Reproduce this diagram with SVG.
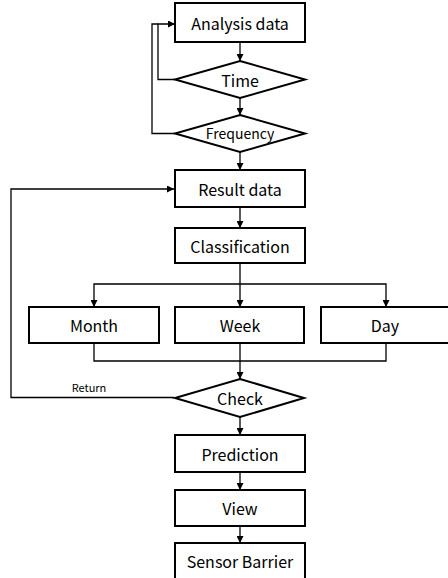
<svg xmlns="http://www.w3.org/2000/svg" width="448" height="578" viewBox="0 0 448 578">
<style>
.box{fill:#fff;stroke:#000;stroke-width:2}
.lbl{font-family:"Noto Sans CJK KR","Noto Sans",sans-serif;font-size:16px;fill:#000;text-anchor:middle;dominant-baseline:central}
.con{fill:none;stroke:#000;stroke-width:1.3}
</style>
<defs>
<marker id="ah" viewBox="0 0 10 10" refX="10" refY="5" markerWidth="7" markerHeight="7" markerUnits="userSpaceOnUse" orient="auto">
<path d="M0,0 L10,5 L0,10 z" fill="#000"/>
</marker>
</defs>
<rect width="448" height="578" fill="#fff"/>
<g id="connectors">
<path class="con" d="M240,43 V61" marker-end="url(#ah)"/>
<path class="con" d="M240,98 V115" marker-end="url(#ah)"/>
<path class="con" d="M240,152 V170" marker-end="url(#ah)"/>
<path class="con" d="M175,79.5 H158 V24 H175" marker-end="url(#ah)"/>
<path class="con" d="M175,133.5 H152 V24 H158"/>
<path class="con" d="M240,207 V228" marker-end="url(#ah)"/>
<path class="con" d="M240,263 V307" marker-end="url(#ah)"/>
<path class="con" d="M240,284 H94 V307" marker-end="url(#ah)"/>
<path class="con" d="M240,284 H386 V307" marker-end="url(#ah)"/>
<path class="con" d="M94,343 V361 H386 V343"/>
<path class="con" d="M240,343 V379" marker-end="url(#ah)"/>
<path class="con" d="M174,397.5 H11 V189 H174" marker-end="url(#ah)"/>
<path class="con" d="M240,417 V435" marker-end="url(#ah)"/>
<path class="con" d="M240,472 V490" marker-end="url(#ah)"/>
<path class="con" d="M240,526 V543" marker-end="url(#ah)"/>
<text x="89" y="387" style="font-family:'Noto Sans CJK KR','Noto Sans',sans-serif;font-size:11px;text-anchor:middle;dominant-baseline:central">Return</text>
</g>
<g id="analysis"><rect class="box" x="175" y="3" width="130" height="39"/><text class="lbl" x="240" y="23">Analysis data</text></g>
<g id="time"><polygon class="box" points="240,61 305,79.5 240,98 175,79.5"/><text class="lbl" x="240" y="80">Time</text></g>
<g id="frequency"><polygon class="box" points="240,115 305,133.5 240,152 175,133.5"/><text class="lbl" x="240" y="133" style="font-size:14px">Frequency</text></g>
<g id="result"><rect class="box" x="175" y="170" width="130" height="37"/><text class="lbl" x="240" y="189">Result data</text></g>
<g id="classification"><rect class="box" x="175" y="228" width="130" height="35"/><text class="lbl" x="240" y="246">Classification</text></g>
<g id="month"><rect class="box" x="29" y="307" width="130" height="36"/><text class="lbl" x="94" y="325">Month</text></g>
<g id="week"><rect class="box" x="175" y="307" width="129" height="36"/><text class="lbl" x="240" y="325">Week</text></g>
<g id="day"><rect class="box" x="321" y="307" width="130" height="36"/><text class="lbl" x="385" y="325">Day</text></g>
<g id="check"><polygon class="box" points="240,379 304,398 240,417 175,398"/><text class="lbl" x="240" y="398">Check</text></g>
<g id="prediction"><rect class="box" x="175" y="435" width="130" height="37"/><text class="lbl" x="240" y="454">Prediction</text></g>
<g id="view"><rect class="box" x="175" y="490" width="130" height="36"/><text class="lbl" x="240" y="508">View</text></g>
<g id="sensor"><rect class="box" x="175" y="543" width="130" height="40"/><text class="lbl" x="240" y="561">Sensor Barrier</text></g>
</svg>
